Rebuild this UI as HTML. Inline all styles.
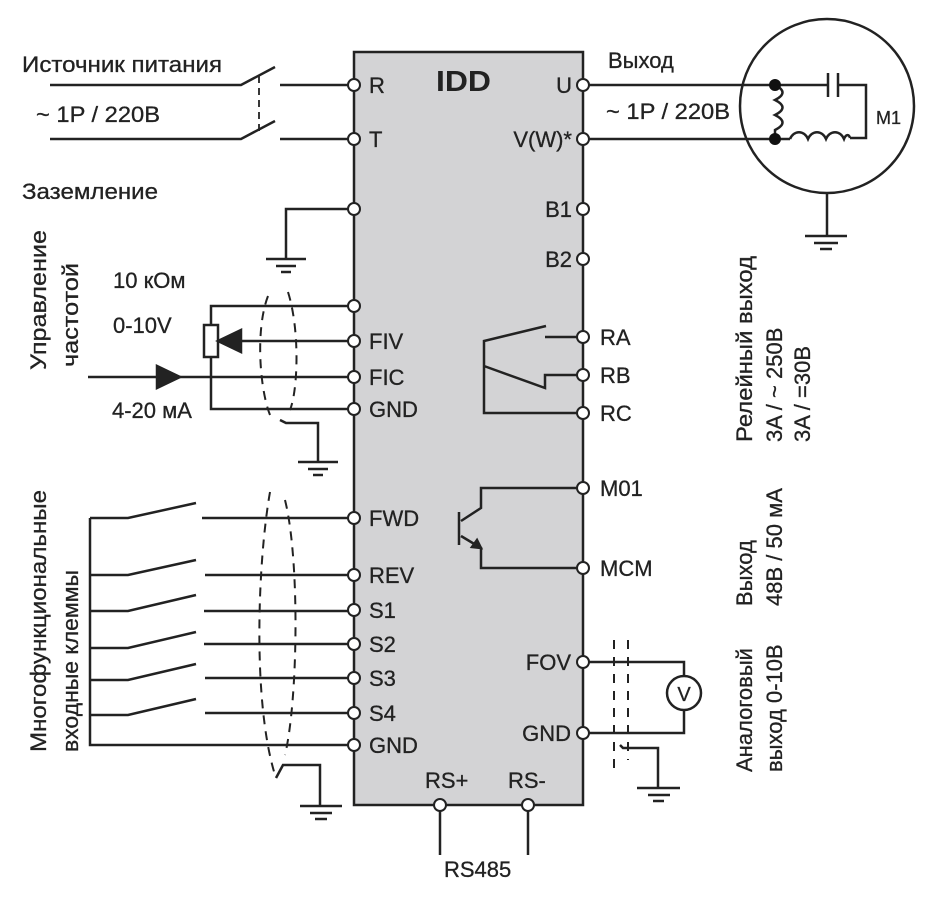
<!DOCTYPE html>
<html><head><meta charset="utf-8"><style>
html,body{margin:0;padding:0;background:#fff;}
svg{display:block;}
text{font-family:"Liberation Sans",sans-serif;fill:#222;font-size:22px;stroke:#222;stroke-width:0.3;}
</style></head><body>
<svg width="947" height="900" viewBox="0 0 947 900" xmlns="http://www.w3.org/2000/svg">
<g stroke="#222" stroke-width="2.5" fill="none">
<rect x="354" y="52" width="229" height="753" fill="#d3d3d5"/>
<path d="M50 85 H241 L275 67 M280 85 H354"/>
<path d="M50 139 H241 L275 121 M280 139 H354"/>
<path d="M259 76 V131" stroke-dasharray="7 5" stroke-width="1.8"/>
<path d="M354 209 H286 V259 M266 259 H306 M276 266 H296 M281 272 H291"/>
<path d="M354 306 H211 V409 H354"/>
<rect x="204" y="325" width="14" height="32" fill="#fff"/>
<path d="M240 341 H354"/>
<polygon points="218,341 241,330 241,352" fill="#222"/>
<path d="M88 377 H354"/>
<polygon points="180,377 157,366 157,388" fill="#222"/>
<path d="M268 296 C255 330 260 390 270 415 M288 292 C300 330 298 390 290 410" stroke-dasharray="9 7" stroke-width="2"/>
<path d="M280 420 L286 423 H318 V462 M298 462 H338 M308 469 H328 M313 475 H323"/>
<path d="M90 518 V745 H354"/>
<g>
<path d="M90 518 H128 L196 503 M202 518 H354"/>
<path d="M90 575 H128 L196 560 M205 575 H354"/>
<path d="M90 611 H128 L196 595 M204 611 H354"/>
<path d="M90 648 H128 L196 632 M204 644 H354"/>
<path d="M90 680 H128 L196 664 M205 678 H354"/>
<path d="M90 715 H128 L196 699 M205 713 H354"/>
</g>
<path d="M270 492 C258 560 252 700 275 775 M285 500 C300 560 298 700 285 755" stroke-dasharray="9 7" stroke-width="2"/>
<path d="M276 778 L283 765 H320 V806 M300 806 H342 M310 813 H332 M315 819 H327"/>
<path d="M583 85 H775 H828 M838 85 H866 V138 H850"/>
<path d="M828 73 V97 M838 73 V97"/>
<path d="M583 139 H775 H790"/>
<path d="M775 85 C785 90 785 95 775 100 C785 105 785 110 775 115 C785 120 785 125 775 130 L775 139"/>
<path d="M790 139 C794 130 804 130 808 139 C812 130 822 130 826 139 C830 130 840 130 844 139 C846 134 849 134 850 138"/>
<circle cx="827" cy="106" r="87"/>
<path d="M827 193 V236 M805 236 H847 M814 243 H838 M820 249 H832"/>
<path d="M583 337 H545 M546 326 L484 341 V413 H583 M484 366 L545 388 V375 H583"/>
<path d="M583 488 H481 V508 L461 521 M459 512 V545 M461 536 L481 548 V568 H583"/>
<polygon points="481,548 472,547 477,540" fill="#222"/>
<path d="M583 662 H684 V676 M684 710 V733 H583"/>
<circle cx="684" cy="693" r="17"/>
<path d="M614 640 V770 M628 640 V760" stroke-dasharray="9 8" stroke-width="2"/>
<path d="M620 745 L623 748 H658 V788 M637 788 H680 M648 795 H670 M653 801 H664"/>
<path d="M440 805 V855 M528 805 V855"/>
</g>
<g fill="#fff" stroke="#222" stroke-width="2">
<circle cx="354" cy="85" r="6"/><circle cx="354" cy="139" r="6"/><circle cx="354" cy="209" r="6"/>
<circle cx="354" cy="306" r="6"/><circle cx="354" cy="341" r="6"/><circle cx="354" cy="377" r="6"/><circle cx="354" cy="409" r="6"/>
<circle cx="354" cy="518" r="6"/><circle cx="354" cy="575" r="6"/><circle cx="354" cy="610" r="6"/><circle cx="354" cy="644" r="6"/><circle cx="354" cy="678" r="6"/><circle cx="354" cy="713" r="6"/><circle cx="354" cy="745" r="6"/>
<circle cx="583" cy="85" r="6"/><circle cx="583" cy="139" r="6"/><circle cx="583" cy="209" r="6"/><circle cx="583" cy="259" r="6"/>
<circle cx="583" cy="337" r="6"/><circle cx="583" cy="375" r="6"/><circle cx="583" cy="413" r="6"/><circle cx="583" cy="488" r="6"/><circle cx="583" cy="568" r="6"/>
<circle cx="583" cy="662" r="6"/><circle cx="583" cy="733" r="6"/>
<circle cx="440" cy="805" r="6"/><circle cx="528" cy="805" r="6"/>
</g>
<g fill="#111"><circle cx="775" cy="85" r="6"/><circle cx="775" cy="139" r="6"/></g>
<text x="22" y="72" textLength="200" lengthAdjust="spacingAndGlyphs">Источник питания</text>
<text x="36" y="122" textLength="124" lengthAdjust="spacingAndGlyphs">~ 1P / 220B</text>
<text x="22" y="199" textLength="136" lengthAdjust="spacingAndGlyphs">Заземление</text>
<text x="113" y="288">10 кОм</text>
<text x="113" y="333">0-10V</text>
<text x="112" y="418">4-20 мА</text>
<text x="436" y="91" style="font-size:29px;font-weight:bold;stroke-width:0" textLength="55" lengthAdjust="spacingAndGlyphs">IDD</text>
<text x="369" y="93">R</text><text x="369" y="147">T</text>
<text x="369" y="349">FIV</text><text x="369" y="385">FIC</text><text x="369" y="417">GND</text>
<text x="369" y="526">FWD</text><text x="369" y="583">REV</text><text x="369" y="618">S1</text><text x="369" y="652">S2</text><text x="369" y="686">S3</text><text x="369" y="721">S4</text><text x="369" y="753">GND</text>
<text x="572" y="93" text-anchor="end">U</text><text x="572" y="147" text-anchor="end">V(W)*</text><text x="572" y="217" text-anchor="end">B1</text><text x="572" y="267" text-anchor="end">B2</text>
<text x="600" y="345">RA</text><text x="600" y="383">RB</text><text x="600" y="421">RC</text><text x="600" y="496">M01</text><text x="600" y="576">MCM</text>
<text x="571" y="670" text-anchor="end">FOV</text><text x="571" y="741" text-anchor="end">GND</text>
<text x="425" y="788">RS+</text><text x="508" y="788">RS-</text>
<text x="444" y="877">RS485</text>
<text x="608" y="68">Выход</text>
<text x="606" y="119" textLength="124" lengthAdjust="spacingAndGlyphs">~ 1P / 220B</text>
<text x="876" y="124" style="font-size:18px">M1</text>
<text x="684" y="701" text-anchor="middle" style="font-size:20px">V</text>
<text transform="translate(46,370) rotate(-90)" textLength="140" lengthAdjust="spacingAndGlyphs">Управление</text>
<text transform="translate(78,367) rotate(-90)" textLength="104" lengthAdjust="spacingAndGlyphs">частотой</text>
<text transform="translate(46,752) rotate(-90)" textLength="262" lengthAdjust="spacingAndGlyphs">Многофункциональные</text>
<text transform="translate(78,752) rotate(-90)" textLength="182" lengthAdjust="spacingAndGlyphs">входные клеммы</text>
<text transform="translate(752,442) rotate(-90)" textLength="186" lengthAdjust="spacingAndGlyphs">Релейный выход</text>
<text transform="translate(782,442) rotate(-90)">3A / ~ 250B</text>
<text transform="translate(810,442) rotate(-90)">3A / =30B</text>
<text transform="translate(752,606) rotate(-90)">Выход</text>
<text transform="translate(782,606) rotate(-90)">48B / 50 мA</text>
<text transform="translate(752,772) rotate(-90)">Аналоговый</text>
<text transform="translate(782,772) rotate(-90)">выход 0-10B</text>
</svg>
</body></html>
